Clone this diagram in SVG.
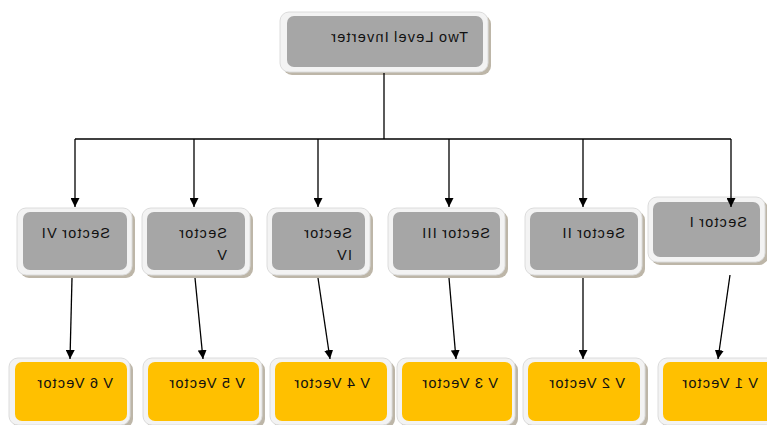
<svg xmlns="http://www.w3.org/2000/svg" width="767" height="425" viewBox="0 0 767 425">
<style>
.sh{fill:#bdb6a8;}
.out{fill:#f3f3f3;stroke:#dcdcdc;stroke-width:1;}
.g{fill:#a6a6a6;}
.y{fill:#ffc000;}
.t{font-family:"Liberation Sans",Arial,sans-serif;font-size:14.5px;letter-spacing:1.2px;word-spacing:-1px;fill:#111;}
.c{stroke:#000;stroke-width:1.3;fill:none;}
</style>
<defs>
<marker id="ah" viewBox="0 0 10 10" refX="10" refY="5" markerWidth="9" markerHeight="9" markerUnits="userSpaceOnUse" orient="auto">
<path d="M0,0 L10,5 L0,10 z" fill="#000"/>
</marker>
</defs>
<g id="top">
<rect class="sh" x="283" y="15" width="208" height="60" rx="9"/>
<rect class="out" x="280" y="12" width="208" height="60" rx="9"/>
<rect class="g" x="287" y="16" width="196" height="51" rx="7"/>
</g>
<g id="s6">
<rect class="sh" x="20" y="211" width="115" height="67" rx="9"/>
<rect class="out" x="17" y="208" width="115" height="67" rx="9"/>
<rect class="g" x="23" y="212" width="104" height="58" rx="7"/>
</g>
<g id="s5">
<rect class="sh" x="145" y="211" width="108" height="67" rx="9"/>
<rect class="out" x="142" y="208" width="108" height="67" rx="9"/>
<rect class="g" x="147" y="212" width="98" height="58" rx="7"/>
</g>
<g id="s4">
<rect class="sh" x="270" y="211" width="103" height="67" rx="9"/>
<rect class="out" x="267" y="208" width="103" height="67" rx="9"/>
<rect class="g" x="272" y="212" width="93" height="58" rx="7"/>
</g>
<g id="s3">
<rect class="sh" x="391" y="211" width="117" height="67" rx="9"/>
<rect class="out" x="388" y="208" width="117" height="67" rx="9"/>
<rect class="g" x="393" y="212" width="107" height="58" rx="7"/>
</g>
<g id="s2">
<rect class="sh" x="528" y="211" width="117" height="67" rx="9"/>
<rect class="out" x="525" y="208" width="117" height="67" rx="9"/>
<rect class="g" x="530" y="212" width="108" height="58" rx="7"/>
</g>
<g id="s1">
<rect class="sh" x="651" y="200" width="117" height="65" rx="9"/>
<rect class="out" x="648" y="197" width="117" height="65" rx="9"/>
<rect class="g" x="653" y="202" width="107" height="55" rx="7"/>
</g>
<g id="v6">
<rect class="sh" x="12" y="361" width="121" height="67" rx="9"/>
<rect class="out" x="9" y="358" width="121" height="67" rx="9"/>
<rect class="y" x="15" y="362" width="112" height="59" rx="7"/>
</g>
<g id="v5">
<rect class="sh" x="146" y="361" width="119" height="67" rx="9"/>
<rect class="out" x="143" y="358" width="119" height="67" rx="9"/>
<rect class="y" x="148" y="362" width="111" height="59" rx="7"/>
</g>
<g id="v4">
<rect class="sh" x="273" y="361" width="122" height="67" rx="9"/>
<rect class="out" x="270" y="358" width="122" height="67" rx="9"/>
<rect class="y" x="275" y="362" width="112" height="59" rx="7"/>
</g>
<g id="v3">
<rect class="sh" x="400" y="361" width="118" height="67" rx="9"/>
<rect class="out" x="397" y="358" width="118" height="67" rx="9"/>
<rect class="y" x="402" y="362" width="110" height="59" rx="7"/>
</g>
<g id="v2">
<rect class="sh" x="526" y="361" width="122" height="67" rx="9"/>
<rect class="out" x="523" y="358" width="122" height="67" rx="9"/>
<rect class="y" x="528" y="362" width="112" height="59" rx="7"/>
</g>
<g id="v1">
<rect class="sh" x="661" y="361" width="122" height="67" rx="9"/>
<rect class="out" x="658" y="358" width="122" height="67" rx="9"/>
<rect class="y" x="663" y="362" width="112" height="59" rx="7"/>
</g>
<g id="connectors">
<line class="c" x1="384" y1="73" x2="384" y2="139" stroke-width="2"/>
<line class="c" x1="75" y1="139" x2="731" y2="139" stroke-width="1.6"/>
<line class="c" x1="75" y1="139" x2="75" y2="207" marker-end="url(#ah)"/>
<line class="c" x1="194" y1="139" x2="194" y2="207" marker-end="url(#ah)"/>
<line class="c" x1="318" y1="139" x2="318" y2="207" marker-end="url(#ah)"/>
<line class="c" x1="449" y1="139" x2="449" y2="207" marker-end="url(#ah)"/>
<line class="c" x1="583" y1="139" x2="583" y2="207" marker-end="url(#ah)"/>
<line class="c" x1="731" y1="139" x2="731" y2="207" marker-end="url(#ah)"/>
<line class="c" x1="72" y1="278" x2="70" y2="359" marker-end="url(#ah)"/>
<line class="c" x1="195" y1="278" x2="203" y2="359" marker-end="url(#ah)"/>
<line class="c" x1="318" y1="278" x2="330" y2="359" marker-end="url(#ah)"/>
<line class="c" x1="449" y1="278" x2="456" y2="359" marker-end="url(#ah)"/>
<line class="c" x1="583" y1="278" x2="583" y2="359" marker-end="url(#ah)"/>
<line class="c" x1="730" y1="275" x2="718" y2="359" marker-end="url(#ah)"/>
</g>
<g id="labels" transform="translate(767,0) scale(-1,1)">
<text class="t" x="299" y="42">Two Level Inverter</text>
<text class="t" x="657" y="238">Sector VI</text>
<text class="t" x="540" y="238">Sector</text>
<text class="t" x="540" y="260">V</text>
<text class="t" x="415" y="238">Sector</text>
<text class="t" x="415" y="260">IV</text>
<text class="t" x="277" y="238">Sector III</text>
<text class="t" x="142" y="238">Sector II</text>
<text class="t" x="20" y="227">Sector I</text>
<text class="t" x="654" y="388">V 6 Vector</text>
<text class="t" x="522" y="388">V 5 Vector</text>
<text class="t" x="397" y="388">V 4 Vector</text>
<text class="t" x="269" y="388">V 3 Vector</text>
<text class="t" x="142" y="388">V 2 Vector</text>
<text class="t" x="9" y="388">V 1 Vector</text>
</g>
</svg>
